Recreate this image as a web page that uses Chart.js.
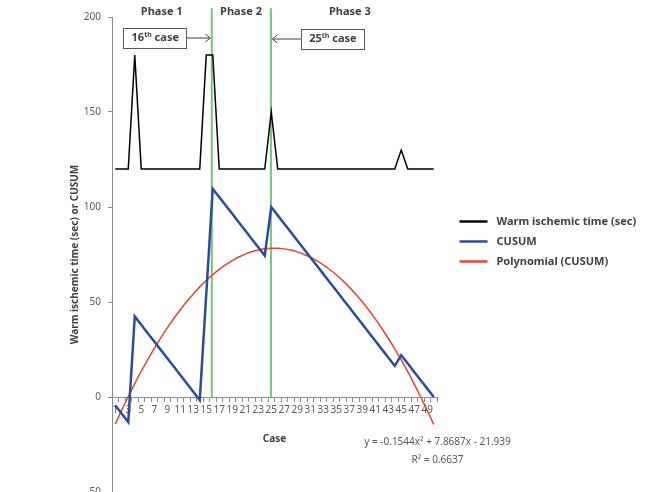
<!DOCTYPE html>
<html>
<head>
<meta charset="utf-8">
<script src="https://cdn.jsdelivr.net/npm/chart.js@4.4.1/dist/chart.umd.min.js"></script>
<style>
  html, body { margin: 0; padding: 0; background: #fff; overflow: hidden; }
  #wrap { width: 659px; height: 510px; }
</style>
</head>
<body>
<div id="wrap"><canvas id="cusumChart"></canvas></div>
<script>
// Chart data
const cases = [1, 2, 3, 4, 5, 6, 7, 8, 9, 10, 11, 12, 13, 14, 15, 16, 17, 18, 19, 20,
  21, 22, 23, 24, 25, 26, 27, 28, 29, 30, 31, 32, 33, 34, 35, 36, 37, 38, 39, 40,
  41, 42, 43, 44, 45, 46, 47, 48, 49, 50];

const warmTime = [120, 120, 120, 180, 120, 120, 120, 120, 120, 120,
  120, 120, 120, 120, 180, 180, 120, 120, 120, 120,
  120, 120, 120, 120, 150, 120, 120, 120, 120, 120,
  120, 120, 120, 120, 120, 120, 120, 120, 120, 120,
  120, 120, 120, 120, 130, 120, 120, 120, 120, 120];

const cusum = [-4.4, -8.8, -13.2, 42.4, 38.0, 33.6, 29.2, 24.8, 20.4, 16.0,
  11.6, 7.2, 2.8, -1.6, 54.0, 109.6, 105.2, 100.8, 96.4, 92.0,
  87.6, 83.2, 78.8, 74.4, 100.0, 95.6, 91.2, 86.8, 82.4, 78.0,
  73.6, 69.2, 64.8, 60.4, 56.0, 51.6, 47.2, 42.8, 38.4, 34.0,
  29.6, 25.2, 20.8, 16.4, 22.0, 17.6, 13.2, 8.8, 4.4, 0.0];

const polyFit = [-14.23, -6.82, 0.28, 7.07, 13.55, 19.72, 25.58, 31.13, 36.37, 41.31,
  45.93, 50.25, 54.26, 57.96, 61.35, 64.43, 67.21, 69.67, 71.83, 73.68,
  75.21, 76.44, 77.36, 77.98, 78.28, 78.27, 77.96, 77.34, 76.40, 75.16,
  73.61, 71.75, 69.59, 67.11, 64.33, 61.23, 57.83, 54.12, 50.10, 45.77,
  41.13, 36.19, 30.93, 25.37, 19.49, 13.31, 6.82, 0.02, -7.09, -14.50];

const phaseLines = [15.85, 24.95];
const phaseNames = ["Phase 1", "Phase 2", "Phase 3"];
const phaseCenters = [8.15, 20.35, 37.1];
const caseNotes = ["16", "25"];
const equation = ["y = -0.1544x\u00B2 + 7.8687x - 21.939", "R\u00B2 = 0.6637"];

const toPoints = (vals) => vals.map((v, i) => ({ x: cases[i], y: v }));

Chart.defaults.font.family = '"Noto Sans", sans-serif';

// Legend, phase labels, case boxes and trendline equation
const annotate = {
  id: "annotate",
  afterDraw(chart) {
    const { ctx, chartArea, scales: { x, y } } = chart;
    ctx.save();
    ctx.textBaseline = "middle";

    // phase labels
    ctx.font = 'bold 11px "Noto Sans"';
    ctx.fillStyle = "#404040";
    ctx.textAlign = "center";
    phaseNames.forEach((name, i) => {
      ctx.fillText(name, x.getPixelForValue(phaseCenters[i]), chartArea.top - 5);
    });

    // case boxes with arrows to the phase lines
    const lx1 = x.getPixelForValue(phaseLines[0]);
    const lx2 = x.getPixelForValue(phaseLines[1]);
    const boxes = [
      { left: lx1 - 25 - 63.5, top: 27.5, tip: lx1, from: lx1 - 25, dir: 1 },
      { left: lx2 + 30, top: 28.5, tip: lx2, from: lx2 + 30, dir: -1 },
    ];
    boxes.forEach((b, i) => {
      ctx.strokeStyle = "#595959";
      ctx.lineWidth = 1;
      ctx.strokeRect(Math.round(b.left) + 0.5, Math.round(b.top) + 0.5, 63, 20);
      const cy = b.top + 10.5;
      // arrow
      ctx.strokeStyle = "#404040";
      ctx.beginPath();
      ctx.moveTo(b.from, cy);
      ctx.lineTo(b.tip - b.dir * 1.5, cy);
      ctx.moveTo(b.tip - b.dir * 6.5, cy - 4);
      ctx.lineTo(b.tip - b.dir * 1.5, cy);
      ctx.lineTo(b.tip - b.dir * 6.5, cy + 4);
      ctx.stroke();
      // text with superscript
      ctx.fillStyle = "#404040";
      ctx.textAlign = "left";
      const big = 'bold 11px "Noto Sans"';
      const sup = 'bold 7px "Noto Sans"';
      ctx.font = big;
      const w1 = ctx.measureText(caseNotes[i]).width;
      const w3 = ctx.measureText(" case").width;
      ctx.font = sup;
      const w2 = ctx.measureText("th").width;
      let tx = b.left + 32 - (w1 + w2 + w3) / 2;
      ctx.font = big;
      ctx.fillText(caseNotes[i], tx, cy);
      ctx.font = sup;
      ctx.fillText("th", tx + w1, cy - 3.5);
      ctx.font = big;
      ctx.fillText(" case", tx + w1 + w2, cy);
    });

    // legend
    ctx.font = 'bold 11px "Noto Sans"';
    ctx.textAlign = "left";
    chart.data.datasets.slice(0, 3).forEach((ds, i) => {
      const ly = 221.5 + i * 20;
      ctx.strokeStyle = ds.borderColor;
      ctx.lineWidth = 2.5;
      ctx.beginPath();
      ctx.moveTo(459.5, ly);
      ctx.lineTo(487.5, ly);
      ctx.stroke();
      ctx.fillStyle = "#404040";
      ctx.fillText(ds.label, 496.5, ly + 0.5);
    });

    // trendline equation
    ctx.font = '10px "Noto Sans"';
    ctx.fillStyle = "#595959";
    ctx.textAlign = "center";
    ctx.fillText(equation[0], 437.5, y.getPixelForValue(-24));
    ctx.fillText(equation[1], 437.5, y.getPixelForValue(-33.2));
    ctx.restore();
  },
};

const ctx = document.getElementById("cusumChart").getContext("2d");
const cusumChart = new Chart(ctx, {
  type: "line",
  data: {
    datasets: [
      {
        label: "Warm ischemic time (sec)",
        data: toPoints(warmTime),
        borderColor: "#000000",
        borderWidth: 1.5,
        pointRadius: 0,
        tension: 0,
      },
      {
        label: "CUSUM",
        data: toPoints(cusum),
        borderColor: "#2b4c9c",
        borderWidth: 2.5,
        pointRadius: 0,
        tension: 0,
      },
      {
        label: "Polynomial (CUSUM)",
        data: toPoints(polyFit),
        borderColor: "#e8432f",
        borderWidth: 1.5,
        pointRadius: 0,
        cubicInterpolationMode: "monotone",
      },
      {
        label: "phase line 1",
        data: [{ x: phaseLines[0], y: 0 }, { x: phaseLines[0], y: 204.6 }],
        borderColor: "#74c774",
        borderWidth: 2,
        pointRadius: 0,
        clip: false,
      },
      {
        label: "phase line 2",
        data: [{ x: phaseLines[1], y: 0 }, { x: phaseLines[1], y: 204.6 }],
        borderColor: "#74c774",
        borderWidth: 2,
        pointRadius: 0,
        clip: false,
      },
    ],
  },
  options: {
    responsive: true,
    maintainAspectRatio: false,
    animation: false,
    layout: { padding: { left: 60, right: 222, top: 17, bottom: 18 } },
    plugins: {
      legend: { display: false },
      tooltip: { enabled: false },
    },
    scales: {
      x: {
        type: "linear",
        position: { y: 0 },
        min: 0.5,
        max: 50.5,
        afterBuildTicks: (scale) => {
          scale.ticks = cases.map((v) => ({ value: v }));
        },
        ticks: {
          autoSkip: false,
          maxRotation: 0,
          minRotation: 0,
          padding: 3,
          color: "#595959",
          font: { size: 10 },
          callback: (v) => (v % 2 === 1 ? String(v) : ""),
        },
        grid: { drawOnChartArea: false, offset: true, tickLength: 4, color: "#8c8c8c" },
        border: { color: "#8c8c8c" },
        title: {
          display: true,
          text: "Case",
          color: "#404040",
          font: { size: 10, weight: "bold" },
          padding: { top: 14, bottom: 0 },
        },
      },
      y: {
        min: -50,
        max: 200,
        afterFit: (scale) => {
          scale.width = 52;
        },
        ticks: { stepSize: 50, padding: 7, color: "#595959", font: { size: 10 } },
        grid: { drawOnChartArea: false, tickLength: 4, color: "#8c8c8c" },
        border: { color: "#8c8c8c" },
        title: {
          display: true,
          text: "Warm ischemic time (sec) or CUSUM",
          color: "#404040",
          font: { size: 10, weight: "bold" },
          padding: { top: 9, bottom: 0 },
        },
      },
    },
  },
  plugins: [annotate],
});
</script>
</body>
</html>
